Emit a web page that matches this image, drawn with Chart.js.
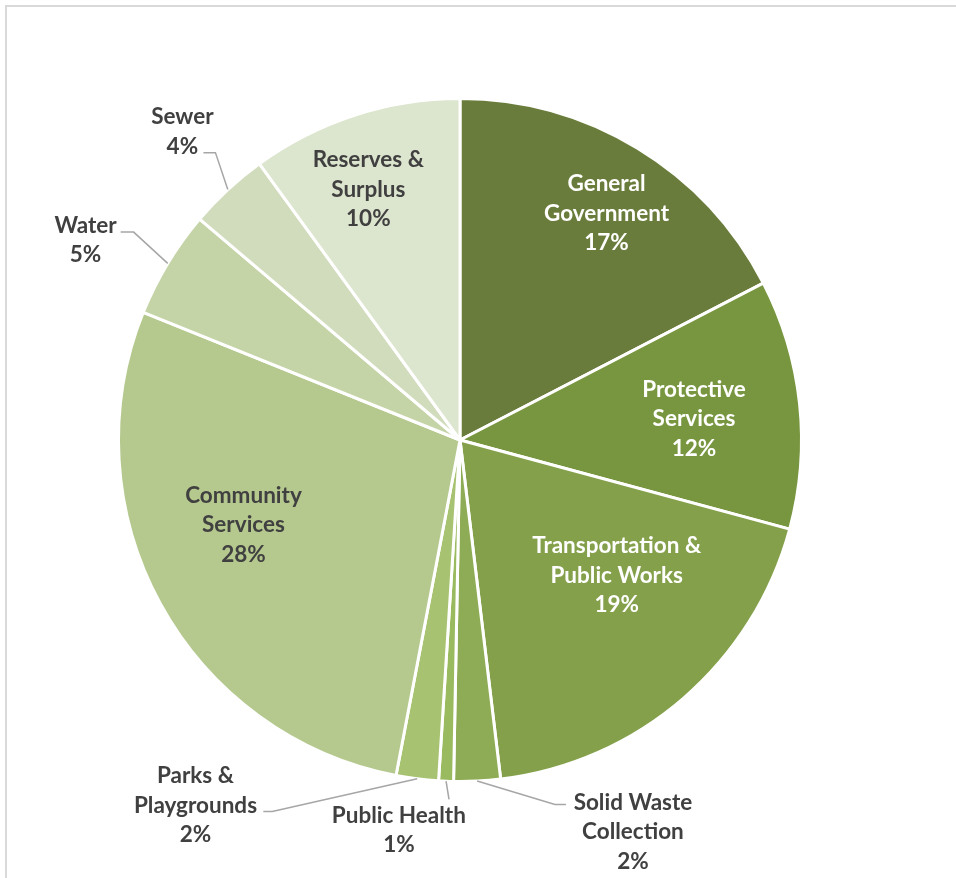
<!DOCTYPE html>
<html>
<head>
<meta charset="utf-8">
<script src="https://cdn.jsdelivr.net/npm/chart.js@4.4.0/dist/chart.umd.min.js"></script>
<style>
  html, body { margin: 0; padding: 0; background: #ffffff; }
  #wrap { position: relative; width: 956px; height: 878px; overflow: hidden; }
  #frame { position: absolute; left: 5px; top: 5px; right: -10px; bottom: -10px;
           border-top: 2px solid #d9d9d9; border-left: 2px solid #d9d9d9; }
  canvas { position: absolute; left: 0; top: 0; }
</style>
</head>
<body>
<div id="wrap">
  <div id="frame"></div>
  <canvas id="budgetPie" width="956" height="878"></canvas>
</div>
<script>
// budget share by function (percent of total)
const categories = [
  ['General', 'Government'],
  ['Protective', 'Services'],
  ['Transportation &', 'Public Works'],
  ['Solid Waste', 'Collection'],
  ['Public Health'],
  ['Parks &', 'Playgrounds'],
  ['Community', 'Services'],
  ['Water'],
  ['Sewer'],
  ['Reserves &', 'Surplus']
];
const shares = [17.4, 11.8, 18.9, 2.2, 0.7, 2.0, 28.1, 5.1, 3.8, 10.0];
const sliceColors = [
  '#6a7c3b', '#78963f', '#84a04b', '#8eac55', '#9aba5f',
  '#a7c270', '#b5c98f', '#c4d4a7', '#d1dcbd', '#dce5cd'
];

// label placement: polar position (deg from top, clockwise; r in radii)
// outside labels also get a leader knee and a short horizontal tail
const labelPlace = [
  { inside: true, light: true, deg: 32.9, r: 0.79 },
  { inside: true, light: true, deg: 84.9, r: 0.688 },
  { inside: true, light: true, deg: 130.9, r: 0.607 },
  { deg: 156.2, r: 1.255, knee: { deg: 165.4, r: 1.103 }, tail: 11 },
  { deg: 188.9, r: 1.157, knee: { deg: 181.75, r: 1.053 }, tail: 0 },
  { deg: 215.9, r: 1.321, knee: { deg: 206.8, r: 1.219 }, tail: -9 },
  { inside: true, deg: 248.6, r: 0.681 },
  { deg: 298.1, r: 1.243, knee: { deg: 302.5, r: 1.133 }, tail: -13 },
  { deg: 318.0, r: 1.215, knee: { deg: 319.6, r: 1.105 }, tail: -12 },
  { inside: true, deg: 339.9, r: 0.781 }
];

const FONT = 'bold 22.5px Lato';
const LINE_H = 29.5;

function polar(cx, cy, R, deg, r) {
    const a = (deg - 90) * Math.PI / 180;
    return { x: cx + Math.cos(a) * R * r, y: cy + Math.sin(a) * R * r };
}

const pieLabels = {
    id: 'pieLabels',
    afterDatasetsDraw(chart) {
        const ctx = chart.ctx;
        const meta = chart.getDatasetMeta(0);
        ctx.save();
        ctx.font = FONT;
        ctx.textAlign = 'center';
        ctx.textBaseline = 'middle';

        meta.data.forEach((arc, i) => {
            const p = arc.getProps(['x', 'y', 'startAngle', 'endAngle', 'outerRadius'], true);
            const cx = p.x, cy = p.y, R = p.outerRadius;
            const place = labelPlace[i];
            const lines = categories[i].concat([Math.round(shares[i]) + '%']);
            const c = polar(cx, cy, R, place.deg, place.r);

            if (!place.inside) {
                // leader line from slice edge (mid angle) to knee, then a short tail
                const mid = (p.startAngle + p.endAngle) / 2;
                const sx = cx + Math.cos(mid) * R;
                const sy = cy + Math.sin(mid) * R;
                const k = polar(cx, cy, R, place.knee.deg, place.knee.r);
                ctx.beginPath();
                ctx.moveTo(sx, sy);
                ctx.lineTo(k.x, k.y);
                if (place.tail) ctx.lineTo(k.x + place.tail, k.y);
                ctx.strokeStyle = '#a6a6a6';
                ctx.lineWidth = 1.5;
                ctx.stroke();
            }

            ctx.fillStyle = place.light ? '#ffffff' : '#404040';
            const top = c.y - (lines.length - 1) * LINE_H / 2;
            lines.forEach((txt, j) => {
                ctx.fillText(txt, c.x, top + j * LINE_H);
            });
        });
        ctx.restore();
    }
};

new Chart(document.getElementById('budgetPie'), {
    type: 'pie',
    data: {
        labels: categories.map(l => l.join(' ')),
        datasets: [{
            data: shares,
            backgroundColor: sliceColors,
            borderColor: '#ffffff',
            borderWidth: 3
        }]
    },
    options: {
        responsive: false,
        animation: false,
        layout: { padding: { left: 117, right: 153, top: 97, bottom: 95 } },
        plugins: {
            legend: { display: false },
            tooltip: { enabled: false },
            title: { display: false }
        }
    },
    plugins: [pieLabels]
});
</script>
</body>
</html>
